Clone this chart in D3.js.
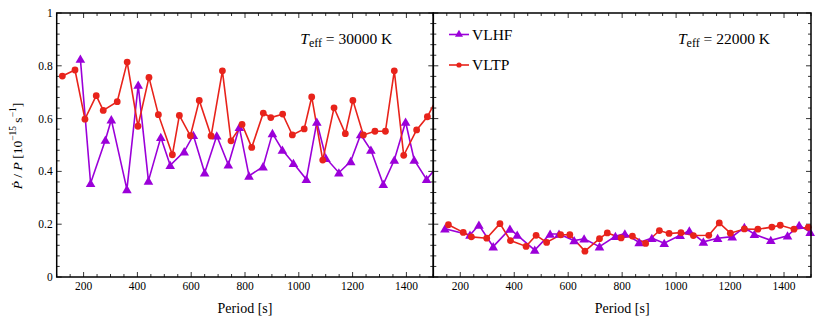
<!DOCTYPE html>
<html><head><meta charset="utf-8">
<script src="https://cdn.jsdelivr.net/npm/d3@7/dist/d3.min.js"></script>
<style>body{margin:0;background:#fff}svg{display:block}text{font-family:"Liberation Serif","Times New Roman",serif;fill:#000}</style>
</head><body><svg id="c" width="830" height="317"></svg>
<script>
// ---- data ----
const hotVLTP_P = [121,168,205,247,273,325,362,402,443,478,530,556,597,630,674,716,748,789,825,868,896,940,976,1020,1048,1089,1131,1173,1201,1240,1283,1322,1355,1390,1438,1478,1525];
const hotVLTP_V = [0.761,0.784,0.598,0.687,0.631,0.664,0.814,0.571,0.756,0.615,0.463,0.612,0.535,0.669,0.534,0.781,0.516,0.578,0.491,0.621,0.604,0.617,0.538,0.561,0.682,0.443,0.641,0.543,0.669,0.538,0.552,0.552,0.781,0.461,0.557,0.607,0.70];
const hotVLHF_P = [188,226,281,303,361,403,441,487,522,574,608,650,695,738,779,815,867,902,939,980,1028,1067,1101,1149,1193,1230,1268,1314,1355,1397,1429,1475,1525];
const hotVLHF_V = [0.826,0.355,0.519,0.596,0.332,0.727,0.364,0.529,0.423,0.475,0.537,0.395,0.535,0.425,0.567,0.383,0.418,0.544,0.481,0.431,0.370,0.587,0.450,0.395,0.438,0.540,0.481,0.351,0.443,0.587,0.443,0.370,0.43];
const coolVLTP_P = [156,211,241,298,347,386,444,481,520,572,606,662,716,745,796,838,887,938,974,1018,1064,1121,1160,1201,1253,1303,1355,1386,1437,1490];
const coolVLTP_V = [0.198,0.169,0.152,0.147,0.202,0.138,0.116,0.158,0.131,0.160,0.160,0.098,0.145,0.167,0.148,0.155,0.127,0.176,0.165,0.168,0.157,0.158,0.205,0.166,0.182,0.181,0.189,0.196,0.181,0.188];
const coolVLHF_P = [143,236,269,322,384,411,476,533,566,622,659,716,775,810,863,910,956,1015,1049,1101,1154,1208,1253,1290,1351,1413,1456,1497];
const coolVLHF_V = [0.183,0.159,0.197,0.115,0.182,0.159,0.102,0.163,0.163,0.138,0.145,0.115,0.154,0.164,0.131,0.147,0.128,0.158,0.175,0.133,0.147,0.153,0.188,0.162,0.139,0.156,0.196,0.170];
const xTicks = [200,400,600,800,1000,1200,1400];
const yTicks = [0,0.2,0.4,0.6,0.8,1];
const yTickLabels = ["0","0.2","0.4","0.6","0.8","1"];
const seriesNames = ["VLHF","VLTP"];
const panelTitles = ["30000 K","22000 K"];

const RED = "#e8231b", PURPLE = "#9b00d9";
const svg = d3.select("#c");
const yTop = 13, yBot = 277;
const y = d3.scaleLinear().domain([0,1]).range([yBot, yTop]);
const panels = [
  {x0:56.7, x1:433.3, title:panelTitles[0], vltp:[hotVLTP_P,hotVLTP_V], vlhf:[hotVLHF_P,hotVLHF_V], ylab:true, legend:false},
  {x0:433.3, x1:811, title:panelTitles[1], vltp:[coolVLTP_P,coolVLTP_V], vlhf:[coolVLHF_P,coolVLHF_V], ylab:false, legend:true}
];
const tri = d3.symbol().type(d3.symbolTriangle).size(40);
panels.forEach((p,i)=>{
  const x = d3.scaleLinear().domain([100,1500]).range([p.x0,p.x1]);
  const g = svg.append("g");
  const cid = "clip"+i;
  svg.append("defs").append("clipPath").attr("id",cid).append("rect")
    .attr("x",p.x0).attr("y",yTop).attr("width",p.x1-p.x0).attr("height",yBot-yTop);
  const xMinor = d3.range(100,1501,50);
  const yMinor = d3.range(0,1.0001,0.04);
  const tk = g.append("g").attr("stroke","#000").attr("stroke-width",0.8);
  xMinor.forEach(v=>{
    const major = v%200===0;
    const L = major?5:3;
    tk.append("line").attr("x1",x(v)).attr("x2",x(v)).attr("y1",yBot).attr("y2",yBot-L);
    tk.append("line").attr("x1",x(v)).attr("x2",x(v)).attr("y1",yTop).attr("y2",yTop+L);
  });
  yMinor.forEach(v=>{
    const major = Math.abs(v*5-Math.round(v*5))<1e-6;
    const L = major?5:3;
    tk.append("line").attr("x1",p.x0).attr("x2",p.x0+L).attr("y1",y(v)).attr("y2",y(v));
    tk.append("line").attr("x1",p.x1).attr("x2",p.x1-L).attr("y1",y(v)).attr("y2",y(v));
  });
  g.selectAll(".xl").data(xTicks).enter().append("text")
    .attr("x",d=>x(d)).attr("y",290).attr("text-anchor","middle").attr("font-size",11.5).text(d=>d);
  g.append("text").attr("x",(p.x0+p.x1)/2).attr("y",312.5).attr("text-anchor","middle").attr("font-size",14).text("Period [s]");
  if(p.ylab){
    g.selectAll(".yl").data(yTicks).enter().append("text")
      .attr("x",p.x0-4).attr("y",d=>y(d)+4).attr("text-anchor","end").attr("font-size",11.5).text((d,j)=>yTickLabels[j]);
  }
  const line = d3.line().x(d=>x(d[0])).y(d=>y(d[1]));
  const dd = (arr)=>arr[0].map((v,j)=>[v,arr[1][j]]);
  const red = dd(p.vltp), pur = dd(p.vlhf);
  const inD = d=>d[0]>=100&&d[0]<=1500;
  const plot = g.append("g").attr("clip-path", i===0?`url(#${cid})`:null);
  plot.append("path").datum(pur).attr("d",line).attr("fill","none").attr("stroke",PURPLE).attr("stroke-width",1.6);
  g.selectAll(".tri"+i).data(pur.filter(inD)).enter().append("path").attr("d",tri)
    .attr("transform",d=>`translate(${x(d[0])},${y(d[1])+1})`).attr("fill",PURPLE);
  plot.append("path").datum(red).attr("d",line).attr("fill","none").attr("stroke",RED).attr("stroke-width",1.6);
  g.selectAll(".cir"+i).data(red.filter(inD)).enter().append("circle")
    .attr("cx",d=>x(d[0])).attr("cy",d=>y(d[1])).attr("r",3.4).attr("fill",RED);
  g.append("rect").attr("x",p.x0).attr("y",yTop).attr("width",p.x1-p.x0).attr("height",yBot-yTop)
    .attr("fill","none").attr("stroke","#000").attr("stroke-width",1.5);
  const t = g.append("text").attr("x",p.x1-41).attr("y",44).attr("text-anchor","end").attr("font-size",15.5);
  t.append("tspan").attr("font-style","italic").text("T");
  t.append("tspan").attr("font-size",12).attr("dy",3).text("eff");
  t.append("tspan").attr("dy",-3).text(" = "+p.title);
  if(p.legend){
    const lg = g.append("g");
    [[PURPLE,"tri",34.5,seriesNames[0]],[RED,"cir",65,seriesNames[1]]].forEach(([c,m,yy,name])=>{
      lg.append("line").attr("x1",449).attr("x2",469).attr("y1",yy).attr("y2",yy).attr("stroke",c).attr("stroke-width",1.6);
      if(m==="tri") lg.append("path").attr("d",d3.symbol().type(d3.symbolTriangle).size(28)).attr("transform",`translate(459,${yy})`).attr("fill",c);
      else lg.append("circle").attr("cx",459).attr("cy",yy).attr("r",2.6).attr("fill",c);
      lg.append("text").attr("x",472).attr("y",yy+5).attr("font-size",15.5).text(name);
    });
  }
});
const yl = svg.append("text").attr("transform","translate(22,146) rotate(-90)").attr("text-anchor","middle").attr("font-size",13.5);
yl.append("tspan").attr("font-style","italic").text("Ṗ");
yl.append("tspan").text(" / ");
yl.append("tspan").attr("font-style","italic").text("P");
yl.append("tspan").text(" [10");
yl.append("tspan").attr("font-size",9.5).attr("dy",-6).text("−15");
yl.append("tspan").attr("dy",6).text(" s");
yl.append("tspan").attr("font-size",9.5).attr("dy",-6).text("−1");
yl.append("tspan").attr("dy",6).text("]");
</script></body></html>
